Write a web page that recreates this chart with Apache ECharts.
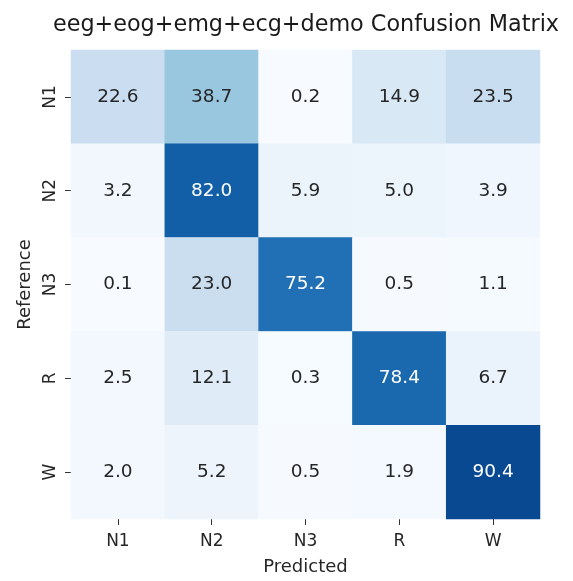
<!DOCTYPE html>
<html>
<head>
<meta charset="utf-8">
<script src="https://cdn.jsdelivr.net/npm/echarts@6/dist/echarts.min.js"></script>
<style>
  html, body { margin: 0; padding: 0; background: #fff; }
  #chart { width: 573px; height: 581px; }
</style>
</head>
<body>
<div id="chart"></div>
<script>
// Sleep-stage confusion matrix (row-normalised percentages)
const stages = ['N1', 'N2', 'N3', 'R', 'W'];
const rowN1 = [22.6, 38.7, 0.2, 14.9, 23.5];
const rowN2 = [3.2, 82.0, 5.9, 5.0, 3.9];
const rowN3 = [0.1, 23.0, 75.2, 0.5, 1.1];
const rowR  = [2.5, 12.1, 0.3, 78.4, 6.7];
const rowW  = [2.0, 5.2, 0.5, 1.9, 90.4];
const rows = [rowN1, rowN2, rowN3, rowR, rowW];

// matplotlib "Blues" colour stops
const blues = ['#f7fbff', '#deebf7', '#c6dbef', '#9ecae1', '#6baed6',
               '#4292c6', '#2171b5', '#08519c', '#08306b'];

// [col, row, value] triples, with light text on the dark cells
const cells = [];
rows.forEach((row, r) => {
  row.forEach((v, c) => cells.push({
    value: [c, r, v],
    label: { color: v > 60 ? '#ffffff' : '#262626' }
  }));
});

const font = 'DejaVu Sans';
const chart = echarts.init(document.getElementById('chart'));
chart.setOption({
  animation: false,
  backgroundColor: '#ffffff',
  title: {
    text: 'eeg+eog+emg+ecg+demo Confusion Matrix',
    left: 301,
    textAlign: 'center',
    top: 9,
    textStyle: { fontFamily: font, fontSize: 22.3, fontWeight: 'normal', color: '#1a1a1a' }
  },
  grid: { left: 71, top: 50, width: 469, height: 469, outerBoundsMode: 'none', containLabel: false },
  xAxis: {
    type: 'category',
    data: stages,
    position: 'bottom',
    name: 'Predicted',
    nameLocation: 'middle',
    nameGap: 39,
    nameTextStyle: { fontFamily: font, fontSize: 18, color: '#262626' },
    axisLine: { show: false },
    axisTick: { show: true, alignWithLabel: true, length: 6, lineStyle: { color: '#333', width: 1 } },
    axisLabel: { fontFamily: font, fontSize: 17, color: '#262626', margin: 14 },
    splitLine: { show: false }
  },
  yAxis: {
    type: 'category',
    data: stages,
    inverse: true,
    name: 'Reference',
    nameLocation: 'middle',
    nameGap: 35,
    nameRotate: 90,
    nameTextStyle: { fontFamily: font, fontSize: 18, color: '#262626' },
    axisLine: { show: false },
    axisTick: { show: true, alignWithLabel: true, length: 6, lineStyle: { color: '#333', width: 1 } },
    axisLabel: { fontFamily: font, fontSize: 17, color: '#262626', rotate: 90, margin: 12 },
    splitLine: { show: false }
  },
  visualMap: {
    show: false,
    type: 'continuous',
    min: 0,
    max: 100,
    dimension: 2,
    inRange: { color: blues }
  },
  series: [{
    type: 'heatmap',
    data: cells,
    itemStyle: { borderWidth: 0 },
    label: {
      show: true,
      fontFamily: font,
      fontSize: 18.5,
      formatter: p => p.value[2].toFixed(1)
    }
  }]
});
</script>
</body>
</html>
